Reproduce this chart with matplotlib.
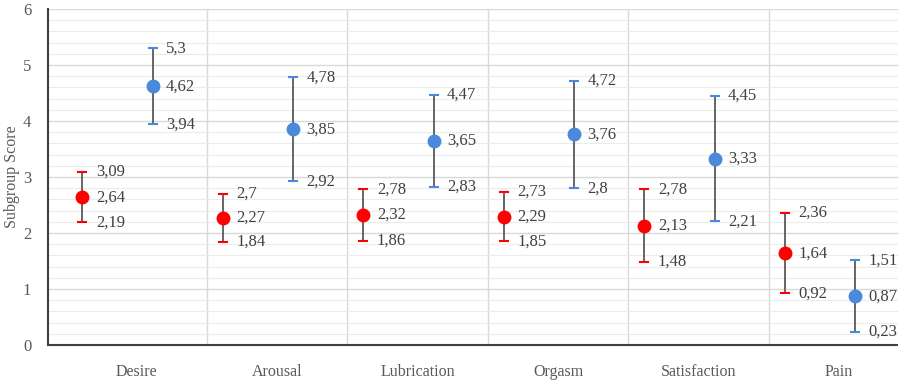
import numpy as np
from matplotlib import pyplot as plt

categorias = ['Desire', 'Arousal', 'Lubrication', 'Orgasm', 'Satisfaction', 'Pain']

vermelho_media = [2.64, 2.27, 2.32, 2.29, 2.13, 1.64]
vermelho_sup = [3.09, 2.7, 2.78, 2.73, 2.78, 2.36]
vermelho_inf = [2.19, 1.84, 1.86, 1.85, 1.48, 0.92]

azul_media = [4.62, 3.85, 3.65, 3.76, 3.33, 0.87]
azul_sup = [5.3, 4.78, 4.47, 4.72, 4.45, 1.51]
azul_inf = [3.94, 2.92, 2.83, 2.8, 2.21, 0.23]

plt.rcParams['font.family'] = ['Liberation Serif', 'DejaVu Serif']

fig = plt.figure(figsize=(8.98, 3.85), dpi=100)
ax = fig.add_axes([48/898, 40/385, 850/898, 336/385])

x = np.arange(len(categorias))

def fmt(v):
    return ('%g' % v).replace('.', ',')

def serie(xs, media, sup, inf, cor):
    media = np.array(media)
    sup = np.array(sup)
    inf = np.array(inf)
    ax.errorbar(xs, media, yerr=[media - inf, sup - media], fmt='none',
                ecolor='#595959', elinewidth=1.3, capsize=0, zorder=3)
    # caps coloridos
    for xi, s, i in zip(xs, sup, inf):
        ax.plot([xi - 0.028, xi + 0.028], [s, s], color=cor, lw=1.5, zorder=4)
        ax.plot([xi - 0.028, xi + 0.028], [i, i], color=cor, lw=1.5, zorder=4)
    ax.plot(xs, media, 'o', color=cor, markersize=9, zorder=5)
    for xi, m, s, i in zip(xs, media, sup, inf):
        for v in (m, s, i):
            ax.text(xi + 0.095, v, fmt(v), va='center', ha='left',
                    fontsize=12, color='#404040', clip_on=False)

serie(x - 0.385, vermelho_media, vermelho_sup, vermelho_inf, '#FF0000')
serie(x + 0.115, azul_media, azul_sup, azul_inf, '#4A89DC')

ax.set_xlim(-0.63, 5.42)
ax.set_ylim(0, 6)
ax.set_yticks(range(7))
ax.set_yticks(np.arange(0, 6.01, 0.2), minor=True)
ax.set_xticks(x)
ax.set_xticklabels(categorias)
ax.tick_params(axis='x', length=0, labelsize=11.5, colors='#595959', pad=14)
ax.tick_params(axis='y', which='both', length=0, labelsize=12, colors='#595959', pad=12)

ax.grid(axis='y', which='major', color='#d9d9d9', lw=1)
ax.grid(axis='y', which='minor', color='#ececec', lw=0.8)
for b in x[:-1] + 0.5:
    ax.axvline(b, color='#d9d9d9', lw=1, zorder=0)
ax.set_axisbelow(True)

for s in ['top', 'right']:
    ax.spines[s].set_visible(False)
ax.spines['left'].set_color('#404040')
ax.spines['left'].set_linewidth(1.5)
ax.spines['bottom'].set_color('#404040')
ax.spines['bottom'].set_linewidth(1.5)

ax.set_ylabel('Subgroup Score', fontsize=11.5, color='#595959')
ax.yaxis.set_label_coords(-28/850, 0.5)

plt.savefig('out.png', dpi=100)
